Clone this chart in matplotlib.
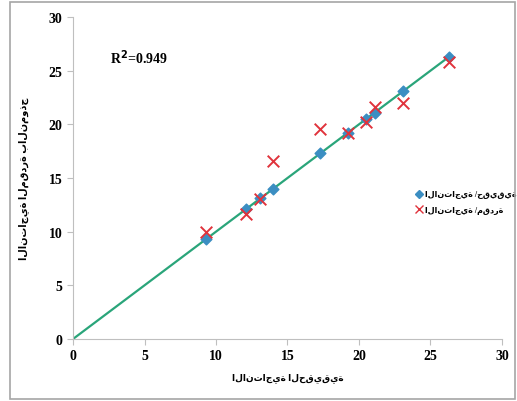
import matplotlib
matplotlib.use("Agg")
import matplotlib.pyplot as plt
from matplotlib.patches import Rectangle
from matplotlib.lines import Line2D

actual = [9.3, 12.1, 13.1, 14.0, 17.3, 19.2, 20.5, 21.1, 23.1, 26.3]
predicted = [10.0, 11.6, 13.0, 16.6, 19.6, 19.2, 20.2, 21.6, 22.0, 25.8]
ticks = [0, 5, 10, 15, 20, 25, 30]
label_actual = "الانتاجية /حقيقية"
label_pred = "الانتاجية /مقدرة"
xlabel = "الانتاجية الحقيقية"
ylabel = "الانتاجية المقدرة بالنموذج"
r2_text = "R$^2$=0.949"

fam = ['Liberation Serif', 'DejaVu Sans']
plt.rcParams['font.family'] = fam
plt.rcParams['font.weight'] = 'bold'

fig = plt.figure(figsize=(5.17, 4.02), dpi=100)
fig.patches.append(Rectangle((10/517, 0.005), 1 - 10/517 - 0.004, 1 - 3/402 - 0.005,
                             transform=fig.transFigure, fill=False,
                             edgecolor='#a6a6a6', linewidth=1.2))
ax = fig.add_axes([73/517, 1 - 340/402, (502 - 73)/517, (340 - 18)/402])

lim = max(actual)
ax.plot([0, lim], [0, lim], color='#2aa57a', lw=1.6, zorder=2)
ax.scatter(actual, actual, marker='D', s=30, color='#3b8ec2', zorder=3)
ax.scatter(actual, predicted, marker='x', s=70, color='#e0333c', linewidths=1.4, zorder=4)

ax.set_xlim(0, 30)
ax.set_ylim(0, 30)
ax.set_xticks(ticks)
ax.set_yticks(ticks)
for s in ['top', 'right']:
    ax.spines[s].set_visible(False)
for s in ['left', 'bottom']:
    ax.spines[s].set_color('#bfbfbf')
ax.tick_params(colors='#bfbfbf', labelcolor='black', labelsize=10, length=4)
for lab in ax.get_xticklabels() + ax.get_yticklabels():
    lab.set_fontweight('bold')

ax.set_xlabel(xlabel, fontsize=6.5, fontweight='bold', labelpad=7)
ax.set_ylabel(ylabel, fontsize=7, fontweight='bold', labelpad=14)
ax.text(2.6, 26.3, r2_text, fontsize=10, fontweight='bold', va='center')

handles = [Line2D([], [], marker='D', ls='', color='#3b8ec2', markersize=4),
           Line2D([], [], marker='x', ls='', color='#e0333c', markersize=6)]
ax.legend(handles, [label_actual, label_pred], loc='center left',
          bbox_to_anchor=(412/517, 1 - 203/402), bbox_transform=fig.transFigure,
          frameon=False, fontsize=5.8, handletextpad=0.2, handlelength=1.0,
          borderaxespad=0, labelspacing=0.9)

fig.savefig("out.png", dpi=100)
